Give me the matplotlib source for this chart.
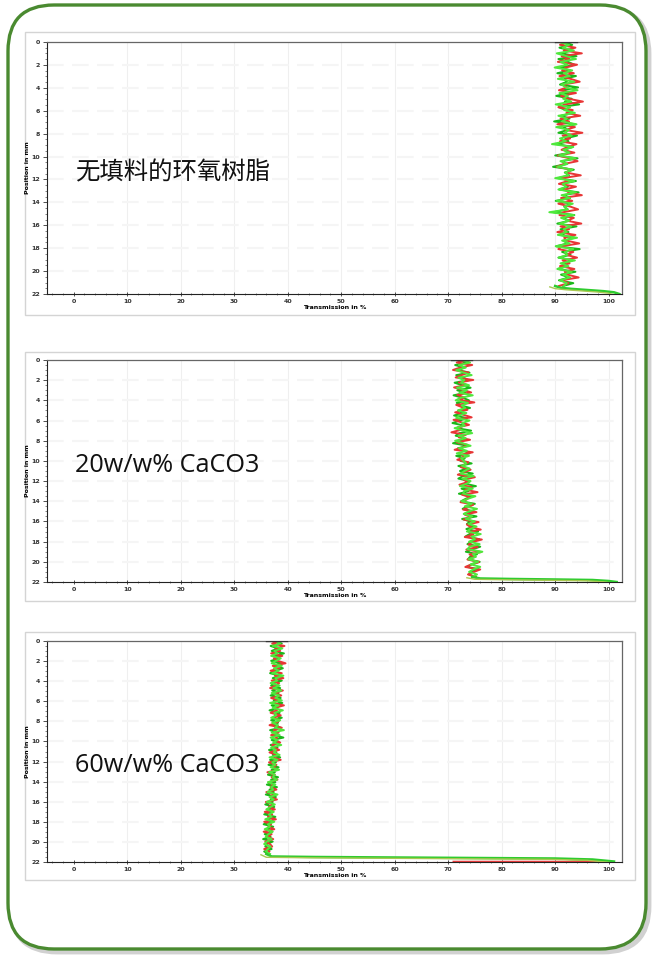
import numpy as np
import matplotlib
matplotlib.use("Agg")
import matplotlib.pyplot as plt
from matplotlib.patches import FancyBboxPatch, Rectangle

plt.rcParams['font.family'] = ['Noto Sans CJK SC', 'DejaVu Sans']

# ---- datos (Transmission %, a lo largo de la posicion 0..fin) ----
labels = ["无填料的环氧树脂", "20w/w% CaCO3", "60w/w% CaCO3"]
band_end = [21.3, 21.5, 21.2]

p1_green = [91.5, 93.2, 90.8, 92.9, 91.2, 94.0, 90.6, 92.4, 93.6, 91.0, 92.8, 90.4, 93.9, 91.7, 92.2, 90.9, 94.3, 91.4, 92.6, 90.2, 93.1,
            91.8, 94.5, 90.7, 92.0, 93.4, 91.1, 92.7, 89.8, 93.8, 91.5, 92.3, 90.6, 94.1, 91.9, 92.5, 90.3, 93.3, 91.6, 92.9, 90.0, 94.2,
            91.3, 92.1, 89.6, 93.5, 91.8, 92.6, 90.5, 93.9, 91.2, 92.4, 90.8, 94.4, 91.5, 92.8, 90.1, 93.0, 91.7, 92.2, 89.7, 93.6, 91.4,
            92.7, 90.4, 94.0, 91.0, 92.5, 90.9, 93.7, 91.6, 92.3, 90.2, 94.6, 91.3, 92.9, 90.6, 93.2, 91.8, 92.0, 90.5, 93.8, 91.1, 92.6,
            90.7, 93.4, 91.5]
p1_red = [92.4, 90.9, 93.8, 91.6, 95.0, 91.2, 92.7, 90.5, 94.1, 92.0, 91.3, 93.5, 90.8, 92.9, 94.6, 91.5, 92.2, 90.7, 93.9, 91.1, 92.5,
          95.2, 91.8, 90.6, 93.3, 92.1, 94.7, 91.0, 92.6, 90.4, 93.7, 91.9, 95.1, 91.4, 92.8, 90.9, 94.0, 92.3, 91.2, 93.6, 90.5, 92.7,
          94.2, 91.6, 90.3, 93.1, 92.0, 94.8, 91.3, 92.4, 90.7, 93.9, 91.8, 92.5, 95.0, 91.1, 93.2, 90.6, 92.8, 94.3, 91.5, 90.8, 93.5,
          92.2, 94.9, 91.0, 92.6, 90.4, 93.8, 91.7, 92.1, 94.5, 91.2, 90.6, 93.4, 92.0, 94.1, 91.4, 92.7, 90.9, 93.6, 91.8, 92.3, 94.4,
          91.1, 92.5, 90.7]
p1_lime = [90.7, 92.6, 91.4, 93.5, 90.3, 92.1, 93.9, 91.0, 92.3, 89.9, 93.2, 91.6, 92.7, 90.5, 93.6, 91.2, 92.0, 94.2, 90.8, 92.4, 91.5,
           93.0, 90.1, 92.8, 91.7, 93.7, 90.6, 92.2, 91.3, 94.0, 90.2, 92.6, 91.8, 93.1, 90.9, 92.0, 89.4, 93.4, 91.5, 92.7, 90.7, 93.8,
           91.0, 92.3, 90.4, 93.2, 91.9, 92.5, 90.0, 93.6, 91.4, 92.1, 90.6, 93.9, 91.2, 92.8, 90.3, 93.3, 91.7, 92.4, 88.9, 93.5, 91.1,
           92.6, 90.8, 93.0, 91.6, 92.2, 90.5, 94.1, 91.3, 92.7, 90.1, 93.4, 91.8, 92.3, 90.7, 93.7, 91.0, 92.5, 90.4, 93.1, 91.5, 92.8,
           90.9, 92.2, 91.6]

p2_green = [72.0, 73.6, 71.3, 73.1, 71.8, 74.0, 71.5, 72.9, 73.8, 71.2, 72.6, 74.2, 71.7, 73.3, 71.0, 72.8, 73.9, 71.6, 72.4, 74.1, 71.9,
            72.7, 71.1, 73.5, 72.2, 70.8, 73.0, 71.6, 74.3, 72.1, 71.4, 73.2, 72.6, 70.9, 73.7, 71.8, 72.9, 74.0, 71.5, 73.1, 72.3, 74.4,
            71.9, 73.4, 72.2, 74.6, 72.8, 71.9, 74.0, 73.1, 75.2, 72.5, 73.8, 72.0, 74.5, 73.3, 72.4, 75.0, 73.6, 72.7, 74.8, 73.0, 75.3,
            72.6, 74.1, 73.5, 74.9, 73.4, 75.6, 74.0, 73.2, 75.8, 74.3, 73.6, 76.0, 74.6, 73.3, 75.4, 74.1, 73.7, 75.9, 74.4, 73.5, 75.7,
            74.2, 73.9, 75.1]
p2_red = [73.2, 71.6, 74.5, 72.3, 70.9, 73.8, 72.6, 71.4, 74.7, 72.0, 73.5, 71.1, 72.8, 74.3, 71.7, 73.0, 72.2, 74.9, 71.5, 72.7, 73.6,
          71.3, 72.9, 74.4, 71.0, 72.5, 73.9, 71.8, 72.4, 70.6, 73.3, 72.0, 74.1, 71.6, 73.6, 72.8, 71.2, 74.6, 72.5, 73.0, 71.7, 73.8,
          72.9, 72.4, 74.2, 73.0, 71.8, 75.0, 72.9, 73.6, 72.1, 74.4, 73.2, 75.5, 72.6, 74.0, 73.4, 72.3, 74.7, 73.8, 72.8, 75.3, 73.1,
          74.3, 72.9, 75.7, 73.5, 74.2, 76.1, 73.9, 74.7, 73.1, 76.3, 74.5, 73.8, 75.5, 73.4, 76.2, 74.0, 75.0, 73.6, 75.8, 74.3, 73.2,
          76.0, 74.8, 73.7, 75.2]
p2_lime = [72.6, 74.1, 72.0, 73.3, 71.5, 72.9, 74.4, 71.9, 73.0, 72.4, 73.9, 71.6, 73.5, 72.1, 74.6, 72.3, 71.4, 73.7, 72.5, 73.2, 71.8,
           73.4, 72.0, 71.5, 74.0, 72.6, 73.1, 71.2, 72.8, 74.5, 71.9, 73.3, 71.3, 72.7, 74.2, 72.0, 73.5, 71.6, 73.9, 72.4, 72.9, 73.4,
           72.6, 74.0, 73.1, 72.3, 74.8, 72.7, 74.2, 73.5, 72.2, 74.6, 73.0, 72.8, 75.1, 73.7, 72.5, 74.4, 73.1, 75.4, 73.9, 72.9, 74.5,
           73.3, 75.0, 73.8, 75.3, 74.1, 73.5, 76.1, 74.4, 75.0, 73.9, 75.9, 74.0, 73.6, 76.4, 74.6, 75.2, 73.8, 75.6, 74.2, 76.0, 74.7,
           73.9, 75.4, 74.5]

p3_green = [37.4, 38.9, 36.8, 38.2, 37.0, 39.3, 37.6, 38.4, 36.9, 38.8, 37.3, 39.1, 37.8, 36.7, 38.5, 37.2, 38.9, 37.5, 36.9, 38.6, 37.1,
            38.3, 36.8, 38.7, 37.4, 39.0, 37.0, 38.1, 36.6, 38.5, 37.6, 38.9, 36.9, 38.2, 37.3, 38.7, 36.7, 38.0, 37.5, 39.2, 37.0, 38.4,
            36.8, 38.1, 36.5, 37.9, 37.2, 38.6, 36.7, 37.8, 36.4, 38.3, 37.0, 37.6, 36.3, 38.2, 36.9, 37.7, 36.1, 38.0, 36.6, 37.4, 35.9,
            37.8, 36.8, 37.2, 35.8, 37.5, 36.4, 37.0, 35.6, 37.7, 36.2, 36.9, 35.5, 37.3, 36.0, 37.1, 35.7, 36.8, 35.4, 37.2, 36.1, 35.8,
            37.0, 35.6, 36.5]
p3_red = [38.3, 37.1, 39.4, 37.7, 38.6, 36.9, 39.0, 37.4, 38.1, 39.6, 37.2, 38.5, 36.8, 38.9, 37.6, 39.2, 37.0, 38.4, 37.8, 36.7, 39.1,
          37.5, 38.8, 36.9, 38.2, 37.1, 39.3, 37.6, 38.0, 36.8, 38.7, 37.3, 38.5, 37.9, 36.6, 38.9, 37.4, 38.3, 36.9, 38.0, 37.7, 38.6,
          37.1, 37.5, 38.4, 36.6, 38.0, 37.2, 38.7, 36.5, 37.9, 37.3, 38.2, 36.2, 37.6, 37.0, 38.1, 36.4, 37.4, 36.8, 37.9, 36.0, 37.5,
          36.7, 38.0, 35.9, 37.3, 36.5, 37.6, 35.7, 37.1, 36.3, 37.8, 35.6, 36.9, 36.4, 37.5, 35.5, 37.0, 36.2, 37.3, 35.8, 36.7, 37.1,
          35.6, 36.6, 36.0]
p3_lime = [37.9, 38.6, 37.2, 39.0, 37.5, 38.1, 36.9, 38.7, 37.8, 37.0, 38.9, 37.4, 38.3, 37.1, 39.2, 37.7, 38.0, 36.8, 38.5, 37.3, 38.8,
           37.0, 38.4, 37.7, 38.9, 36.7, 38.3, 37.2, 39.1, 37.5, 37.9, 36.9, 38.6, 37.1, 38.2, 37.6, 39.3, 37.0, 38.5, 36.8, 38.1, 37.3,
           38.8, 36.9, 37.8, 37.4, 38.5, 36.6, 38.1, 37.1, 37.7, 36.8, 38.4, 36.5, 37.6, 37.2, 38.0, 36.3, 37.7, 36.9, 37.3, 36.2, 38.1,
           36.6, 37.4, 36.1, 37.6, 36.8, 36.0, 37.4, 36.5, 37.0, 35.8, 37.5, 36.3, 36.7, 35.7, 37.2, 36.4, 35.9, 37.0, 36.1, 35.6, 36.8,
           36.3, 35.9, 36.7]

# colas al fondo de la cubeta (posicion, transmision)
tail1_pos = [21.3, 21.45, 21.55, 21.65, 21.75, 21.85, 22.0]
tail1_tr = [90.0, 91.0, 93.0, 96.0, 99.0, 101.0, 102.0]
tail2_pos = [21.5, 21.65, 21.7, 21.75, 21.8, 21.9, 22.0]
tail2_tr = [74.5, 76.0, 82.0, 90.0, 97.0, 100.0, 101.5]
tail3_pos = [21.2, 21.45, 21.5, 21.55, 21.6, 21.65, 21.75, 21.95]
tail3_tr = [36.0, 37.0, 45.0, 60.0, 75.0, 90.0, 97.0, 101.0]
tail3_red_pos = [21.97, 21.97, 21.9, 22.0]
tail3_red_tr = [71.0, 92.0, 98.0, 101.0]

panels = [
    (p1_green, p1_red, p1_lime, tail1_pos, tail1_tr),
    (p2_green, p2_red, p2_lime, tail2_pos, tail2_tr),
    (p3_green, p3_red, p3_lime, tail3_pos, tail3_tr),
]

W, H = 655, 956
fig = plt.figure(figsize=(W / 100, H / 100), dpi=100)

# fondo con marco verde redondeado
bg = fig.add_axes([0, 0, 1, 1])
bg.set_xlim(0, W)
bg.set_ylim(H, 0)
bg.axis('off')
bg.add_patch(FancyBboxPatch((11, 8), 638, 944, boxstyle="round,pad=0,rounding_size=46",
                            fc='none', ec='#9a9a9a', lw=3.5, alpha=0.45))
bg.add_patch(FancyBboxPatch((8, 5), 638, 944, boxstyle="round,pad=0,rounding_size=46",
                            fc='white', ec='#4a8a30', lw=2.4))

frames = [(32, 315), (352, 601), (632, 880)]
axes_px = [(42, 294), (360, 582), (641, 862)]
label_y = [172, 466, 766]
for (ft, fb) in frames:
    bg.add_patch(Rectangle((25, ft), 610, fb - ft, fc='white', ec='#d4d4d4', lw=1.0))

for i, (g, r, l, tpos, ttr) in enumerate(panels):
    top, bot = axes_px[i]
    ax = fig.add_axes([47 / W, 1 - bot / H, (622 - 47) / W, (bot - top) / H])
    ax.set_facecolor('white')
    ax.set_xlim(-5, 102.5)
    ax.set_ylim(22, 0)

    # cuadricula tenue
    for gx in range(10, 101, 10):
        ax.axvline(gx, color='#efefef', lw=0.8, zorder=0)
    for gy in range(2, 22, 2):
        ax.axhline(gy, color='#f5f5f5', lw=1.5, ls=(0, (8, 4)), zorder=0)

    cols = ['#19b819', '#e83535', '#4fe83c']
    zs = [2.0, 2.05, 2.1]
    for vals, c, z in zip([g, r, l], cols, zs):
        pos = np.linspace(0, band_end[i], len(vals))
        ax.plot(vals, pos, color=c, lw=1.4, zorder=z)
    ax.plot(ttr, tpos, color='#2ecc2e', lw=1.8, zorder=3)
    ax.plot([v - 1 for v in ttr], [p + 0.08 for p in tpos], color='#a8c850', lw=1.0, zorder=3)
    if i == 2:
        ax.plot(tail3_red_tr, tail3_red_pos, color='#e03a3a', lw=1.4, zorder=2.9)
    ax.plot([g[0] - 1.5, g[0] + 2.5], [0, 0], color='#333333', lw=1.0, zorder=4)

    ax.set_xticks(range(0, 101, 10))
    ax.set_xticks(np.arange(-4, 102, 2), minor=True)
    ax.set_yticks(range(0, 23, 2))
    ax.set_yticks(np.arange(0, 22.1, 0.5), minor=True)
    ax.tick_params(axis='both', which='major', labelsize=4.5, length=3, width=0.6, pad=2,
                   colors='#333333')
    ax.tick_params(axis='both', which='minor', length=1.8, width=0.5, colors='#555555')
    ax.tick_params(axis='x', which='both', direction='inout')
    for lab in ax.get_xticklabels() + ax.get_yticklabels():
        lab.set_fontweight('bold')
        lab.set_family('DejaVu Sans')
    for s in ['top', 'right']:
        ax.spines[s].set_color('#666666')
        ax.spines[s].set_linewidth(0.9)
    for s in ['left', 'bottom']:
        ax.spines[s].set_color('#222222')
        ax.spines[s].set_linewidth(0.8)
    ax.set_xlabel('Transmission in %', fontsize=4.5, fontweight='bold', labelpad=0.5,
                  family='DejaVu Sans')
    ax.set_ylabel('Position in mm', fontsize=4.5, fontweight='bold', labelpad=1,
                  family='DejaVu Sans')

# etiquetas de cada muestra (texto de figura, encima de los ejes)
for i, txt in enumerate(labels):
    fam = ['Noto Sans CJK SC', 'DejaVu Sans'] if i == 0 else ['Open Sans', 'DejaVu Sans']
    size = 17.6 if i == 0 else 18.2
    fig.text(75 / W, 1 - label_y[i] / H, txt, fontsize=size, color='#111111',
             va='center', ha='left', family=fam, zorder=10)

fig.savefig('out.png', dpi=100)
